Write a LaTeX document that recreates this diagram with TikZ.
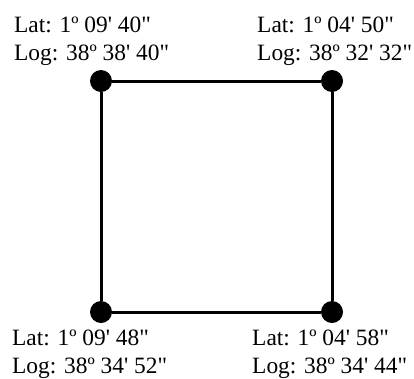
\documentclass[tikz,border=0pt]{standalone}
\usepackage{fontspec}
\setmainfont{Liberation Serif}[Ligatures=TeXOff]
\begin{document}
\begin{tikzpicture}[x=1pt,y=-1pt,
  dot/.style={circle,fill=black,inner sep=0pt,minimum size=22pt},
  edge/.style={line width=3pt},
  lbl/.style={anchor=base west,inner sep=0pt,font=\fontsize{23.4}{28}\selectfont}]
\useasboundingbox (0,0) rectangle (414,378);
\node[dot] (tl) at (101,81) {};
\node[dot] (tr) at (332,81) {};
\node[dot] (bl) at (101,312) {};
\node[dot] (br) at (332,312) {};
\draw[edge] (tl) -- (tr);
\draw[edge] (tr) -- (br);
\draw[edge] (br) -- (bl);
\draw[edge] (bl) -- (tl);
\node[lbl] (tllat) at (14,32) {Lat: 1º 09' 40"};
\node[lbl] (tllog) at (14,60) {Log: 38º 38' 40"};
\node[lbl] (trlat) at (257,32) {Lat: 1º 04' 50"};
\node[lbl] (trlog) at (257,60) {Log: 38º 32' 32"};
\node[lbl] (bllat) at (12,345) {Lat: 1º 09' 48"};
\node[lbl] (bllog) at (12,373) {Log: 38º 34' 52"};
\node[lbl] (brlat) at (252,345) {Lat: 1º 04' 58"};
\node[lbl] (brlog) at (252,373) {Log: 38º 34' 44"};
\end{tikzpicture}
\end{document}
